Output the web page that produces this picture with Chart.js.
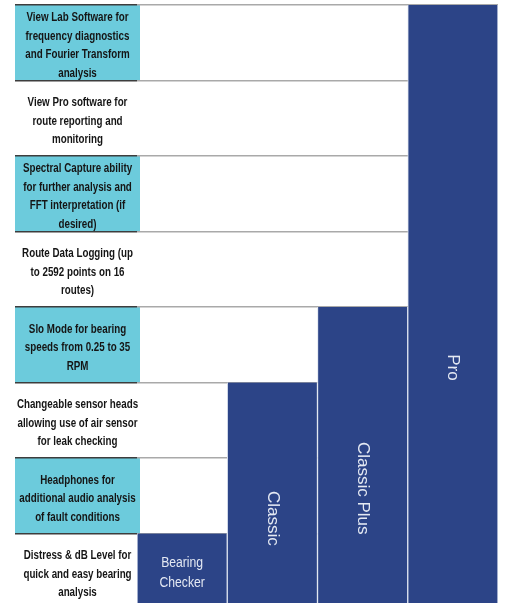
<!DOCTYPE html>
<html>
<head>
<meta charset="utf-8">
<script src="https://cdn.jsdelivr.net/npm/chart.js@4.4.1/dist/chart.umd.min.js"></script>
<style>
  html, body { margin: 0; padding: 0; background: #ffffff; overflow: hidden; }
  #wrap { position: relative; width: 505px; height: 612px; }
</style>
</head>
<body>
<div id="wrap"><canvas id="c"></canvas></div>
<script>
// ---- data ----
const products = ['Bearing Checker', 'Classic', 'Classic Plus', 'Pro'];
const productLabelLines = [['Bearing', 'Checker'], ['Classic'], ['Classic Plus'], ['Pro']];
const featureCounts = [1, 3, 4, 8];
// features listed top to bottom
const features = [
  ['View Lab Software for', 'frequency diagnostics', 'and Fourier Transform', 'analysis'],
  ['View Pro software for', 'route reporting and', 'monitoring'],
  ['Spectral Capture ability', 'for further analysis and', 'FFT interpretation (if', 'desired)'],
  ['Route Data Logging (up', 'to 2592 points on 16', 'routes)'],
  ['Slo Mode for bearing', 'speeds from 0.25 to 35', 'RPM'],
  ['Changeable sensor heads', 'allowing use of air sensor', 'for leak checking'],
  ['Headphones for', 'additional audio analysis', 'of fault conditions'],
  ['Distress & dB Level for', 'quick and easy bearing', 'analysis']
];
const highlightedRows = [true, false, true, false, true, false, true, false];

const NAVY = '#2c4487';
const CYAN = '#6ccbdc';
const labelFont = 'bold 12px "Liberation Sans", Arial, sans-serif';
const labelSquash = 0.815;

const featurePlugin = {
  id: 'featureColumn',
  beforeDraw(chart) {
    const ctx = chart.ctx, y = chart.scales.y, area = chart.chartArea;
    const n = features.length;
    ctx.save();
    ctx.fillStyle = CYAN;
    for (let i = 0; i < n; i++) {
      if (!highlightedRows[i]) continue;
      const top = y.getPixelForValue(n - i);
      const bot = y.getPixelForValue(n - i - 1);
      ctx.fillRect(y.left, top, area.left - y.left + 3, bot - top);
    }
    ctx.restore();
  },
  afterDatasetsDraw(chart) {
    const ctx = chart.ctx, y = chart.scales.y, area = chart.chartArea;
    const n = features.length;
    const cx = (y.left + area.left + 3) / 2;
    ctx.save();
    ctx.font = labelFont;
    ctx.fillStyle = '#151515';
    ctx.textAlign = 'center';
    ctx.textBaseline = 'middle';
    const lh = 18.5;
    for (let i = 0; i < n; i++) {
      const mid = y.getPixelForValue(n - i - 0.5) + 3;
      const lines = features[i];
      lines.forEach((t, k) => {
        ctx.save();
        ctx.translate(cx, mid + (k - (lines.length - 1) / 2) * lh);
        ctx.scale(labelSquash, 1);
        ctx.fillText(t, 0, 0);
        ctx.restore();
      });
    }
    // product labels inside bars
    const meta = chart.getDatasetMeta(0);
    ctx.fillStyle = '#e4e9f3';
    meta.data.forEach((bar, i) => {
      const lines = productLabelLines[i];
      if (lines.length > 1) {
        ctx.font = '14px "Liberation Sans", Arial, sans-serif';
        const mid = y.getPixelForValue(featureCounts[i] * 0.5) + 2;
        lines.forEach((t, k) => {
          ctx.save();
          ctx.translate(bar.x, mid + (k - (lines.length - 1) / 2) * 20);
          ctx.scale(0.87, 1);
          ctx.fillText(t, 0, 0);
          ctx.restore();
        });
      } else {
        ctx.font = '17px "Liberation Sans", Arial, sans-serif';
        const py = y.getPixelForValue(featureCounts[i] * 0.4);
        ctx.save();
        ctx.translate(bar.x, py);
        ctx.rotate(Math.PI / 2);
        ctx.fillText(lines[0], 0, 0);
        ctx.restore();
      }
    });
    ctx.restore();
  }
};

new Chart(document.getElementById('c'), {
  type: 'bar',
  data: {
    labels: products,
    datasets: [{
      data: featureCounts,
      backgroundColor: NAVY,
      borderColor: '#dfe5f0',
      borderWidth: { left: 1, right: 1, top: 0, bottom: 0 },
      borderSkipped: false,
      categoryPercentage: 1,
      barPercentage: 1
    }]
  },
  options: {
    responsive: true,
    maintainAspectRatio: false,
    animation: false,
    layout: { padding: { left: 15, right: 7, top: 5, bottom: 3 } },
    plugins: { legend: { display: false }, tooltip: { enabled: false } },
    scales: {
      x: { display: false },
      y: {
        min: 0,
        max: features.length,
        ticks: { stepSize: 1, display: false },
        grid: {
          color: '#a9a9a9',
          tickColor: '#3d3d3d',
          lineWidth: 1.5,
          drawTicks: true,
          tickLength: 122
        },
        border: { display: false },
        afterFit(scale) { scale.width = 122; }
      }
    }
  },
  plugins: [featurePlugin]
});
</script>
</body>
</html>
